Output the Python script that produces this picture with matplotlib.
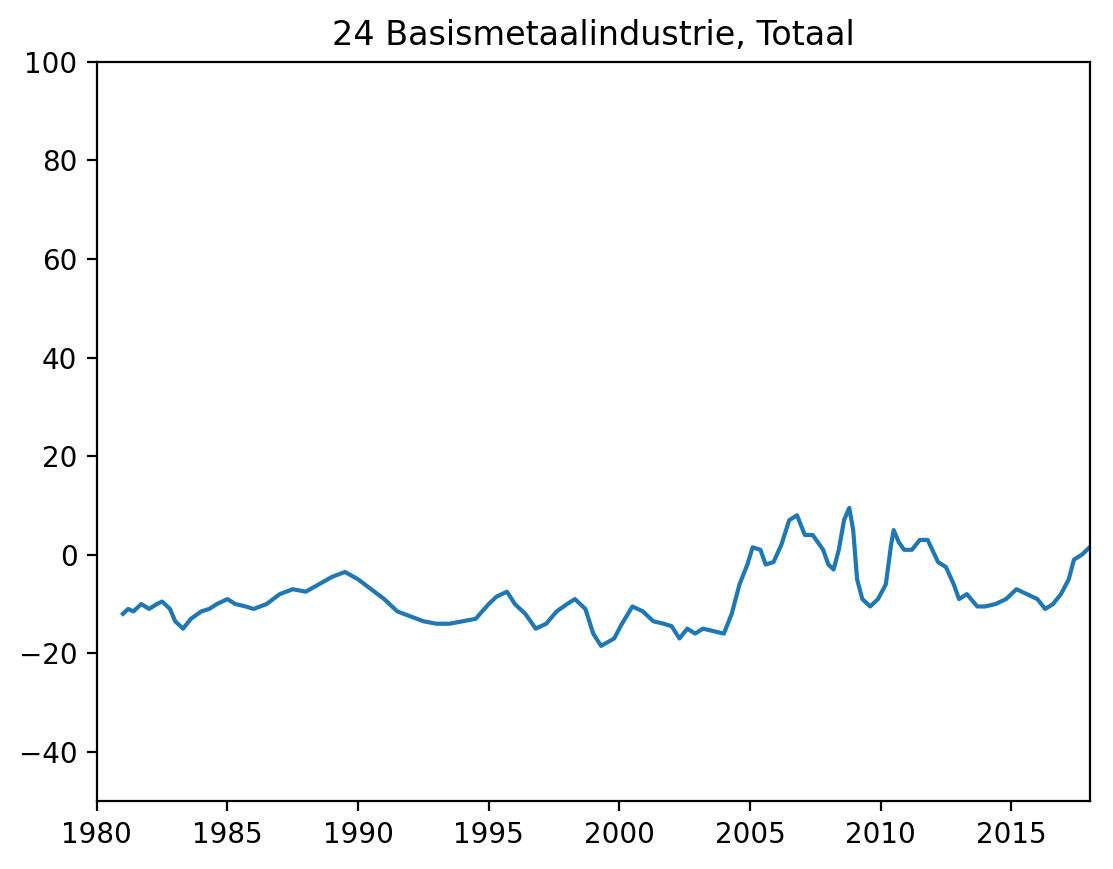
import matplotlib
matplotlib.use("Agg")
import matplotlib.pyplot as plt

years = [1981.0,1981.2,1981.4,1981.7,1982.0,1982.3,1982.5,1982.8,1983.0,1983.3,1983.6,1984.0,1984.3,1984.6,1985.0,1985.3,1985.7,1986.0,1986.5,1987.0,1987.5,1988.0,1988.5,1989.0,1989.5,1990.0,1990.5,1991.0,1991.5,1992.0,1992.5,1993.0,1993.5,1994.0,1994.5,1995.0,1995.3,1995.7,1996.0,1996.4,1996.8,1997.2,1997.6,1998.0,1998.3,1998.7,1999.0,1999.3,1999.8,2000.1,2000.5,2000.9,2001.3,2001.7,2002.0,2002.3,2002.6,2002.9,2003.2,2003.6,2004.0,2004.3,2004.6,2004.9,2005.1,2005.4,2005.6,2005.9,2006.2,2006.5,2006.8,2007.1,2007.4,2007.8,2008.0,2008.2,2008.4,2008.6,2008.8,2008.95,2009.1,2009.3,2009.6,2009.9,2010.2,2010.4,2010.5,2010.7,2010.9,2011.2,2011.5,2011.8,2012.2,2012.5,2012.8,2013.0,2013.3,2013.7,2014.0,2014.4,2014.8,2015.2,2015.6,2016.0,2016.3,2016.6,2016.9,2017.2,2017.4,2017.7,2018.0]
values = [-12,-11,-11.5,-10,-11,-10,-9.5,-11,-13.5,-15,-13,-11.5,-11,-10,-9,-10,-10.5,-11,-10,-8,-7,-7.5,-6,-4.5,-3.5,-5,-7,-9,-11.5,-12.5,-13.5,-14,-14,-13.5,-13,-10,-8.5,-7.5,-10,-12,-15,-14,-11.5,-10,-9,-11,-16,-18.5,-17,-14,-10.5,-11.5,-13.5,-14,-14.5,-17,-15,-16,-15,-15.5,-16,-12,-6,-2,1.5,1,-2,-1.5,2,7,8,4,4,1,-2,-3,1,7,9.5,5,-5,-9,-10.5,-9,-6,2,5,2.5,1,1,3,3,-1.5,-2.5,-6,-9,-8,-10.5,-10.5,-10,-9,-7,-8,-9,-11,-10,-8,-5,-1,0,1.5]

fig, ax = plt.subplots(figsize=(5.565, 4.345), dpi=200)
ax.plot(years, values, color="#1f77b4", lw=1.5)
ax.set_xlim(1980, 2018)
ax.set_ylim(-50, 100)
ax.set_title("24 Basismetaalindustrie, Totaal")
fig.subplots_adjust(left=0.087, right=0.979, top=0.929, bottom=0.078)
fig.savefig("out.png", dpi=200)
